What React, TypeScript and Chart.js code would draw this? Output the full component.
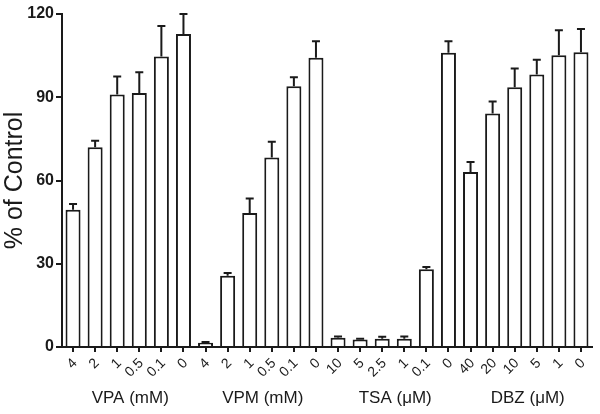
import React, { useEffect, useRef } from "react";
import { Chart, registerables } from "chart.js";

Chart.register(...registerables);

const tickLabels = ["4", "2", "1", "0.5", "0.1", "0", "4", "2", "1", "0.5", "0.1", "0", "10", "5", "2.5", "1", "0.1", "0", "40", "20", "10", "5", "1", "0"];
const means = [49.5, 72, 91, 91.5, 104.7, 112.8, 1.5, 25.7, 48.3, 68.3, 94, 104.2, 3.3, 2.7, 3, 3, 28, 106, 63.1, 84.1, 93.6, 98.2, 105.1, 106.2];
const errors = [2, 2.3, 6.5, 7.5, 11, 7.2, 0.3, 1, 5.2, 5.7, 3.2, 6, 0.5, 0.3, 0.7, 0.8, 0.8, 4.2, 3.6, 4.4, 6.8, 5.3, 9, 8.4];
const groupNames = ["VPA (mM)", "VPM (mM)", "TSA (\u03bcM)", "DBZ (\u03bcM)"];
const groupSizes = [6, 6, 6, 6];
const yTicks = [0, 30, 60, 90, 120];

const INK = "#1a1a1a";
const FONT = "'Liberation Sans', Arial, Helvetica, sans-serif";

const errorBarPlugin = {
  id: "errorBars",
  afterDatasetsDraw(chart: any) {
    const meta = chart.getDatasetMeta(0);
    const y = chart.scales.y;
    const ctx = chart.ctx;
    ctx.save();
    ctx.strokeStyle = INK;
    ctx.lineWidth = 2;
    meta.data.forEach((bar: any, i: number) => {
      const top = y.getPixelForValue(means[i] + errors[i]);
      const base = y.getPixelForValue(means[i]);
      ctx.beginPath();
      ctx.moveTo(bar.x, base);
      ctx.lineTo(bar.x, top);
      ctx.moveTo(bar.x - 4, top);
      ctx.lineTo(bar.x + 4, top);
      ctx.stroke();
    });
    ctx.restore();
  },
};

const xLabelPlugin = {
  id: "xLabels",
  afterDraw(chart: any) {
    const x = chart.scales.x;
    const ctx = chart.ctx;
    ctx.save();
    ctx.fillStyle = INK;
    // rotated category tick labels
    ctx.font = `14px ${FONT}`;
    ctx.textAlign = "right";
    ctx.textBaseline = "middle";
    tickLabels.forEach((lab, i) => {
      const px = x.getPixelForValue(i);
      ctx.save();
      ctx.translate(px + 2, x.top + 14);
      ctx.rotate(-Math.PI / 4);
      ctx.fillText(lab, 0, 0);
      ctx.restore();
    });
    // group labels
    ctx.font = `17px ${FONT}`;
    ctx.textAlign = "center";
    let start = 0;
    groupNames.forEach((name, g) => {
      const end = start + groupSizes[g] - 1;
      const cx = (x.getPixelForValue(start) + x.getPixelForValue(end)) / 2 + 2;
      ctx.fillText(name, cx, 398);
      start += groupSizes[g];
    });
    ctx.restore();
  },
};

export default function App() {
  const ref = useRef<HTMLCanvasElement>(null);
  useEffect(() => {
    if (!ref.current) return;
    const chart = new Chart(ref.current, {
      type: "bar",
      data: {
        labels: tickLabels,
        datasets: [
          {
            data: means,
            backgroundColor: "#ffffff",
            borderColor: INK,
            borderWidth: 2,
            barPercentage: 0.68,
            categoryPercentage: 1,
          },
        ],
      },
      options: {
        responsive: false,
        animation: false,
        layout: { padding: { left: 0, right: 8, top: 14, bottom: 0 } },
        plugins: { legend: { display: false }, tooltip: { enabled: false } },
        scales: {
          x: {
            offset: true,
            grid: { display: true, drawOnChartArea: false, drawTicks: true, tickLength: 5, tickWidth: 2, tickColor: INK, color: INK, lineWidth: 2, offset: false },
            border: { display: true, color: INK, width: 2 },
            ticks: { display: false },
            afterFit(scale: any) {
              scale.height = 67;
            },
          },
          y: {
            min: 0,
            max: 120,
            afterBuildTicks(scale: any) {
              scale.ticks = yTicks.map((v) => ({ value: v }));
            },
            grid: { display: true, drawOnChartArea: false, drawTicks: true, tickLength: 6, tickWidth: 2, tickColor: INK, color: INK, lineWidth: 2 },
            border: { display: true, color: INK, width: 2 },
            ticks: { color: INK, font: { family: FONT, size: 16, weight: "bold" }, padding: 2 },
            title: { display: true, text: "% of Control", color: INK, font: { family: FONT, size: 25 }, padding: { top: 0, bottom: 0 } },
            afterFit(scale: any) {
              scale.width = 62;
            },
          },
        },
      },
      plugins: [errorBarPlugin, xLabelPlugin],
    });
    return () => chart.destroy();
  }, []);
  return (
    <div style={{ position: "fixed", left: 0, top: 0, width: 600, height: 414, background: "#fff" }}>
      <canvas ref={ref} width={600} height={414} />
    </div>
  );
}
